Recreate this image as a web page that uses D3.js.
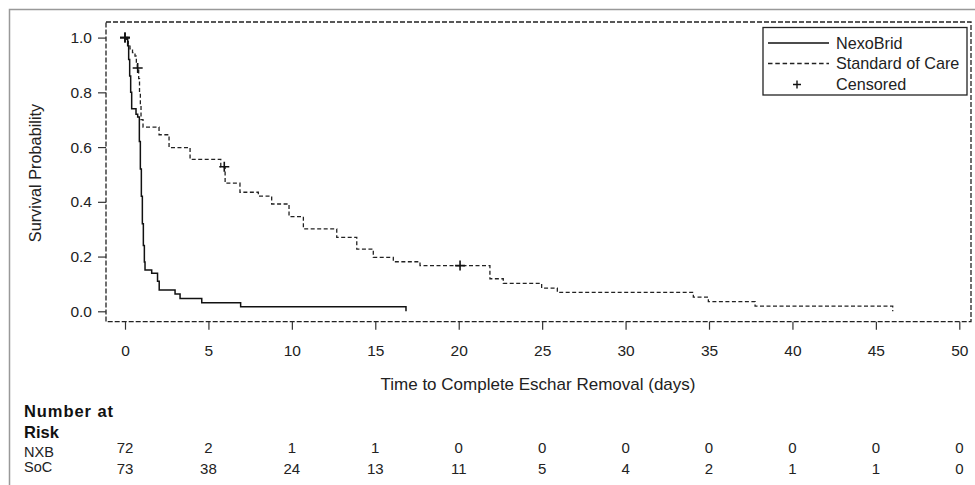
<!DOCTYPE html>
<html>
<head>
<meta charset="utf-8">
<script src="https://cdn.jsdelivr.net/npm/d3@7"></script>
<style>
  body { margin: 0; background: #fff; }
  svg { display: block; font-family: "Liberation Sans", Arial, sans-serif; }
</style>
</head>
<body>
<div id="chart"></div>
<script>
// datos (tiempo en dias, probabilidad de supervivencia)
const nxbTime = [0, 0.16, 0.22, 0.28, 0.34, 0.40, 0.66, 0.76, 0.86, 0.92, 0.98, 1.04, 1.10, 1.16, 1.20, 1.60, 1.95, 2.05, 3.00, 3.30, 4.60, 6.93, 16.84];
const nxbSurv = [1, 0.97, 0.92, 0.86, 0.80, 0.74, 0.72, 0.71, 0.62, 0.52, 0.42, 0.32, 0.24, 0.18, 0.151, 0.139, 0.11, 0.078, 0.063, 0.047, 0.031, 0.017, 0];

const socTime = [0, 0.10, 0.20, 0.30, 0.45, 0.60, 0.68, 0.74, 0.82, 0.87, 0.92, 0.96, 1.08, 2.04, 2.64, 3.90, 5.74, 6.00, 6.89, 7.99, 8.79, 9.83, 10.69, 12.69, 13.89, 14.88, 16.08, 17.68, 21.87, 22.67, 24.97, 25.91, 34.06, 34.96, 37.76, 46.01];
const socSurv = [1, 0.986, 0.973, 0.959, 0.945, 0.932, 0.904, 0.889, 0.85, 0.80, 0.75, 0.70, 0.673, 0.645, 0.598, 0.555, 0.528, 0.468, 0.435, 0.421, 0.392, 0.346, 0.301, 0.270, 0.227, 0.197, 0.181, 0.167, 0.119, 0.102, 0.085, 0.069, 0.052, 0.035, 0.019, 0];

const nxbCensor = [0];
const socCensor = [0, 0.76, 5.95, 20.08];

const xTicks = [0, 5, 10, 15, 20, 25, 30, 35, 40, 45, 50];
const yTicks = [0, 0.2, 0.4, 0.6, 0.8, 1.0];

const riskNXB = [72, 2, 1, 1, 0, 0, 0, 0, 0, 0, 0];
const riskSoC = [73, 38, 24, 13, 11, 5, 4, 2, 1, 1, 0];

const legendItems = ["NexoBrid", "Standard of Care", "Censored"];

// configuracion
const width = 975, height = 485;
const frame = {left: 106, top: 22, right: 971, bottom: 321.7};

const x = d3.scaleLinear().domain([0, 50]).range([125, 959.3]);
const y = d3.scaleLinear().domain([0, 1]).range([311.3, 37.6]);

const svg = d3.select("#chart").append("svg")
  .attr("width", width).attr("height", height);

// marco exterior gris
svg.append("path")
  .attr("d", `M9.5,${height} V9.5 H${width}`)
  .attr("fill", "none").attr("stroke", "#999").attr("stroke-width", 1.5);

// marco del area del grafico (punteado)
svg.append("rect")
  .attr("x", frame.left).attr("y", frame.top)
  .attr("width", frame.right - frame.left).attr("height", frame.bottom - frame.top)
  .attr("fill", "none").attr("stroke", "#222").attr("stroke-width", 1.3)
  .attr("stroke-dasharray", "5,2");

// ejes
const gx = svg.append("g")
  .attr("transform", `translate(0,${frame.bottom})`)
  .call(d3.axisBottom(x).tickValues(xTicks).tickSize(8).tickPadding(15).tickFormat(d3.format("d")));
gx.select(".domain").remove();
gx.selectAll("line").attr("stroke", "#333").attr("stroke-width", 1.2);
gx.selectAll("text").attr("font-size", 15.5).attr("fill", "#222").attr("font-family", null);

const gy = svg.append("g")
  .attr("transform", `translate(${frame.left},0)`)
  .call(d3.axisLeft(y).tickValues(yTicks).tickSize(8).tickPadding(6).tickFormat(d3.format(".1f")));
gy.select(".domain").remove();
gy.selectAll("line").attr("stroke", "#333").attr("stroke-width", 1.2);
gy.selectAll("text").attr("font-size", 15.5).attr("fill", "#222").attr("font-family", null);

svg.append("text")
  .attr("x", 538).attr("y", 390)
  .attr("text-anchor", "middle").attr("font-size", 17).attr("fill", "#222")
  .text("Time to Complete Eschar Removal (days)");

svg.append("text")
  .attr("transform", "translate(41,173) rotate(-90)")
  .attr("text-anchor", "middle").attr("font-size", 16.3).attr("fill", "#222")
  .text("Survival Probability");

// curvas
const line = d3.line()
  .x(d => x(d[0])).y(d => y(d[1]))
  .curve(d3.curveStepAfter);

const nxbData = nxbTime.map((t, i) => [t, nxbSurv[i]]);
const socData = socTime.map((t, i) => [t, socSurv[i]]);

svg.append("path")
  .datum(socData)
  .attr("d", line)
  .attr("fill", "none").attr("stroke", "#222").attr("stroke-width", 1.3)
  .attr("stroke-dasharray", "4,2.5");

svg.append("path")
  .datum(nxbData)
  .attr("d", line)
  .attr("fill", "none").attr("stroke", "#111").attr("stroke-width", 1.5);

// marcas de censura
function survAt(times, surv, t) {
  let v = surv[0];
  times.forEach((tt, i) => { if (tt <= t) v = surv[i]; });
  return v;
}
const censorPts = nxbCensor.map(t => [t, survAt(nxbTime, nxbSurv, t)])
  .concat(socCensor.map(t => [t, survAt(socTime, socSurv, t)]));

svg.selectAll(".censor")
  .data(censorPts)
  .enter().append("path")
  .attr("class", "censor")
  .attr("d", d => `M${x(d[0]) - 5},${y(d[1])} h10 M${x(d[0])},${y(d[1]) - 5} v10`)
  .attr("stroke", "#111").attr("stroke-width", 1.6).attr("fill", "none");

// leyenda
const lg = svg.append("g").attr("transform", "translate(763,27.5)");
lg.append("rect")
  .attr("width", 204).attr("height", 67.5)
  .attr("fill", "#fff").attr("stroke", "#222").attr("stroke-width", 1.3);
const rows = [15.5, 36, 57];
lg.append("line").attr("x1", 5).attr("x2", 66).attr("y1", rows[0]).attr("y2", rows[0])
  .attr("stroke", "#111").attr("stroke-width", 1.4);
lg.append("line").attr("x1", 5).attr("x2", 66).attr("y1", rows[1]).attr("y2", rows[1])
  .attr("stroke", "#222").attr("stroke-width", 1.3).attr("stroke-dasharray", "4.5,2.8");
lg.append("path").attr("d", `M30,${rows[2]} h8 M34,${rows[2] - 4} v8`)
  .attr("stroke", "#111").attr("stroke-width", 1.4);
lg.selectAll(".lt")
  .data(legendItems)
  .enter().append("text")
  .attr("x", 73).attr("y", (d, i) => rows[i] + 5.8)
  .attr("font-size", 16.2).attr("fill", "#222")
  .text(d => d);

// tabla de numero en riesgo
svg.append("text").attr("x", 24).attr("y", 416.5)
  .attr("font-size", 16.5).attr("font-weight", "bold").attr("fill", "#111")
  .attr("textLength", 89).text("Number at");
svg.append("text").attr("x", 24).attr("y", 438)
  .attr("font-size", 16.5).attr("font-weight", "bold").attr("fill", "#111").text("Risk");
svg.append("text").attr("x", 24).attr("y", 457)
  .attr("font-size", 14.5).attr("fill", "#222").text("NXB");
svg.append("text").attr("x", 24).attr("y", 472)
  .attr("font-size", 14.5).attr("fill", "#222").text("SoC");

svg.selectAll(".rn")
  .data(riskNXB)
  .enter().append("text")
  .attr("x", (d, i) => x(xTicks[i])).attr("y", 452.5)
  .attr("text-anchor", "middle").attr("font-size", 15).attr("fill", "#222")
  .text(d => d);
svg.selectAll(".rs")
  .data(riskSoC)
  .enter().append("text")
  .attr("x", (d, i) => x(xTicks[i])).attr("y", 474)
  .attr("text-anchor", "middle").attr("font-size", 15).attr("fill", "#222")
  .text(d => d);
</script>
</body>
</html>
